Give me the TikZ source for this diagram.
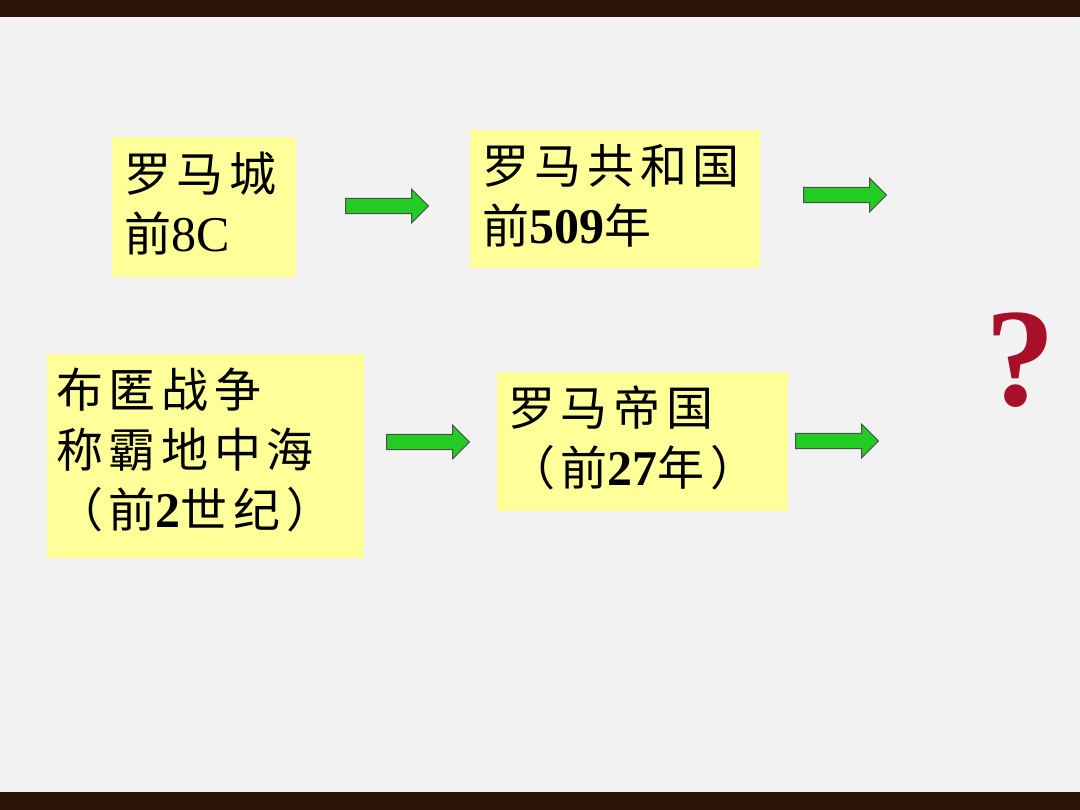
\documentclass[tikz,border=0pt]{standalone}
\usepackage{fontspec}
\setmainfont{Liberation Serif}
\newfontfamily\cjk[LetterSpace=12]{Noto Sans CJK SC}
\usetikzlibrary{shapes.arrows}
\definecolor{boxyellow}{HTML}{FFFF99}
\definecolor{arrowgreen}{HTML}{22CC22}
\definecolor{barbrown}{HTML}{2A1508}
\definecolor{qred}{HTML}{A8102A}
\tikzset{
  datebox/.style={anchor=north west, align=left, inner sep=0pt,
    font=\fontsize{47}{60}\selectfont\cjk},
  greenarrow/.style={single arrow, draw=black!70, fill=arrowgreen, line width=1pt,
    minimum height=83pt, minimum width=34pt, single arrow head extend=9pt,
    inner sep=7pt, anchor=west}
}
\begin{document}
\begin{tikzpicture}[x=1pt,y=-1pt]
    \useasboundingbox (0,0) rectangle (1080,810);
    \fill[gray!10] (0,0) rectangle (1080,810);
    \fill[barbrown] (0,0) rectangle (1080,17);
    \fill[barbrown] (0,792) rectangle (1080,810);

    \fill[boxyellow] (112,137) rectangle (296,277);
    \node[datebox] (city) at (124,152) {罗马城\\前{\rmfamily\fontsize{50}{60}\selectfont 8C}};
    \node[greenarrow] (a1) at (345,206) {};

    \fill[boxyellow] (470,130) rectangle (760,268);
    \node[datebox] (republic) at (482,144) {罗马共和国\\前{\rmfamily\bfseries\fontsize{50}{60}\selectfont 509}年};
    \node[greenarrow] (a2) at (803,195) {};

    \fill[boxyellow] (47,354) rectangle (364,558);
    \node[datebox] (punic) at (56,368) {布匿战争\\称霸地中海\\（前{\rmfamily\bfseries\fontsize{50}{60}\selectfont 2}世纪）};
    \node[greenarrow] (a3) at (386,442) {};

    \fill[boxyellow] (497,372) rectangle (788,511);
    \node[datebox] (empire) at (508,386) {罗马帝国\\（前{\rmfamily\bfseries\fontsize{50}{60}\selectfont 27}年）};
    \node[greenarrow] (a4) at (795,441) {};

    \node[text=qred, font=\fontsize{140}{140}\selectfont\rmfamily\bfseries] (q) at (1020,360) {?};
\end{tikzpicture}
\end{document}
